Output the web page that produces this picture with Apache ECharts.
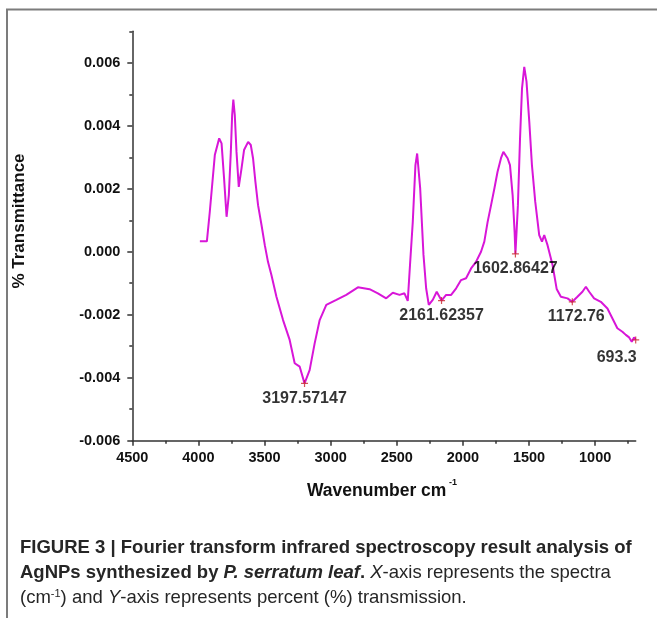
<!DOCTYPE html>
<html>
<head>
<meta charset="utf-8">
<script src="https://cdn.jsdelivr.net/npm/echarts@6/dist/echarts.min.js"></script>
<style>
  html, body { margin: 0; padding: 0; background: #fff; }
  #chart { width: 657px; height: 618px; }
</style>
</head>
<body>
<div id="chart"></div>
<script>
// FTIR spectrum (cm-1 / % transmittance)
const wavenumber = [
  3989, 3936, 3914, 3876, 3843, 3825, 3806, 3787, 3770, 3755,
  3745, 3736, 3725, 3712, 3695, 3674, 3655, 3624, 3604, 3587,
  3569, 3549, 3523, 3498, 3474, 3448, 3410, 3360, 3310, 3272,
  3234, 3197.57, 3159, 3121, 3083, 3033, 2957, 2882, 2794, 2706,
  2643, 2580, 2530, 2479, 2442, 2417, 2400, 2379, 2359, 2346,
  2323, 2298, 2278, 2258, 2228, 2198, 2161.62, 2127, 2089, 2051,
  2014, 1976, 1938, 1901, 1863, 1838, 1813, 1787, 1762, 1738,
  1712, 1694, 1679, 1662, 1644, 1624, 1609, 1602.86, 1584, 1568,
  1553, 1536, 1519, 1498, 1478, 1453, 1423, 1402, 1385, 1360,
  1322, 1291, 1259, 1209, 1172.76, 1134, 1096, 1070, 1045, 1008,
  957, 907, 870, 832, 794, 768, 743, 723, 706, 693.3
];
const transmittance = [
  0.00033, 0.00033, 0.00127, 0.00307, 0.00360, 0.00344, 0.00233, 0.00111, 0.00180, 0.00317,
  0.00434, 0.00483, 0.00434, 0.00317, 0.00206, 0.00265, 0.00323, 0.00349, 0.00339, 0.00297,
  0.00222, 0.00148, 0.00085, 0.00021, -0.00032, -0.00074, -0.00143, -0.00217, -0.00280, -0.00354,
  -0.00365, -0.00418, -0.00376, -0.00291, -0.00217, -0.00169, -0.00153, -0.00137, -0.00113, -0.00119,
  -0.00132, -0.00148, -0.00130, -0.00137, -0.00132, -0.00156, -0.00042, 0.00095, 0.00275, 0.00312,
  0.00201, -0.00010, -0.00116, -0.00169, -0.00153, -0.00127, -0.00155, -0.00137, -0.00137, -0.00116,
  -0.00090, -0.00084, -0.00053, -0.00032, 0.00000, 0.00032, 0.00095, 0.00148, 0.00201, 0.00254,
  0.00297, 0.00317, 0.00323, 0.00297, 0.00275, 0.00180, 0.00063, -0.00007, 0.00148, 0.00360,
  0.00519, 0.00587, 0.00540, 0.00413, 0.00275, 0.00159, 0.00053, 0.00032, 0.00053, 0.00021,
  -0.00042, -0.00118, -0.00143, -0.00148, -0.00159, -0.00143, -0.00127, -0.00111, -0.00127, -0.00148,
  -0.00159, -0.00180, -0.00211, -0.00243, -0.00254, -0.00264, -0.00272, -0.00286, -0.00272, -0.00280
];

// marked peaks
const peakWavenumber = [3197.57147, 2161.62357, 1602.86427, 1172.76, 693.3];
const peakTransmittance = [-0.00418, -0.00155, -0.00007, -0.00159, -0.00280];
const peakLabels = ['3197.57147', '2161.62357', '1602.86427', '1172.76', '693.3'];

// axis ticks
const xMajorTicks = [4500, 4000, 3500, 3000, 2500, 2000, 1500, 1000];
const xMinorTicks = [4250, 3750, 3250, 2750, 2250, 1750, 1250, 750];
const yMajorTicks = [-0.006, -0.004, -0.002, 0, 0.002, 0.004, 0.006];
const yMinorTicks = [-0.005, -0.003, -0.001, 0.001, 0.003, 0.005, 0.007];

const FONT = 'Liberation Sans';
const AXIS_COLOR = '#333';
const LINE_COLOR = '#d816d8';

const chart = echarts.init(document.getElementById('chart'));

const spectrum = wavenumber.map((w, i) => [w, transmittance[i]]);
const labelOffsets = [[0, 0], [0, 0], [0, 0], [4, 0], [-19, 3]];
const peaks = peakWavenumber.map((w, i) => ({
  value: [w, peakTransmittance[i]],
  label: { formatter: peakLabels[i], offset: labelOffsets[i] }
}));

const axisBase = {
  type: 'value',
  splitLine: { show: false },
  axisLine: { onZero: false, lineStyle: { color: AXIS_COLOR, width: 1.5 } }
};

chart.setOption({
  animation: false,
  grid: {
    left: 132.3, right: 21.3, top: 31.3, bottom: 177.3,
    containLabel: false, outerBoundsMode: 'none'
  },
  xAxis: [
    Object.assign({}, axisBase, {
      inverse: true, min: 693.3, max: 4500, position: 'bottom',
      axisTick: { customValues: xMajorTicks, length: 5, lineStyle: { color: AXIS_COLOR, width: 1.5 } },
      axisLabel: {
        customValues: xMajorTicks, margin: 10,
        formatter: v => String(v),
        color: '#111', fontFamily: FONT, fontWeight: 'bold', fontSize: 14.5
      }
    }),
    Object.assign({}, axisBase, {
      inverse: true, min: 693.3, max: 4500, position: 'bottom',
      axisLine: { show: false, onZero: false },
      axisTick: { customValues: xMinorTicks, length: 3, lineStyle: { color: AXIS_COLOR, width: 1.5 } },
      axisLabel: { show: false }
    })
  ],
  yAxis: [
    Object.assign({}, axisBase, {
      min: -0.006, max: 0.007, position: 'left',
      axisTick: { customValues: yMajorTicks, length: 5, lineStyle: { color: AXIS_COLOR, width: 1.5 } },
      axisLabel: {
        customValues: yMajorTicks, margin: 12,
        formatter: v => v.toFixed(3),
        color: '#111', fontFamily: FONT, fontWeight: 'bold', fontSize: 14.5
      }
    }),
    Object.assign({}, axisBase, {
      min: -0.006, max: 0.007, position: 'left',
      axisLine: { show: false, onZero: false },
      axisTick: { customValues: yMinorTicks, length: 3, lineStyle: { color: AXIS_COLOR, width: 1.5 } },
      axisLabel: { show: false }
    })
  ],
  series: [
    {
      type: 'line',
      data: spectrum,
      showSymbol: false,
      lineStyle: { color: LINE_COLOR, width: 2 },
      z: 2
    },
    {
      type: 'scatter',
      data: peaks,
      clip: false,
      symbol: 'path://M0,5L10,5M5,0L5,10',
      symbolSize: 7,
      itemStyle: { color: 'transparent', borderColor: '#c8262a', borderWidth: 1.2 },
      label: {
        show: true, position: 'bottom', distance: 3,
        color: '#000', fontFamily: FONT, fontWeight: 'bold', fontSize: 16
      },
      z: 3
    }
  ],
  graphic: [
    {
      type: 'rect', silent: true, z: -1,
      shape: { x: 7, y: 9.5, width: 700, height: 700 },
      style: { fill: 'none', stroke: '#7c7c7c', lineWidth: 2 }
    },
    {
      type: 'text', x: 19, y: 221, rotation: Math.PI / 2,
      style: {
        text: '% Transmittance', align: 'center', verticalAlign: 'middle',
        fill: '#111', fontFamily: FONT, fontWeight: 'bold', fontSize: 17
      }
    },
    {
      type: 'text', x: 307, y: 491,
      style: {
        text: 'Wavenumber cm', align: 'left', verticalAlign: 'middle',
        fill: '#111', fontFamily: FONT, fontWeight: 'bold', fontSize: 17.5
      }
    },
    {
      type: 'text', x: 449, y: 483,
      style: {
        text: '-1', align: 'left', verticalAlign: 'middle',
        fill: '#111', fontFamily: FONT, fontWeight: 'bold', fontSize: 9
      }
    },
    {
      type: 'text', x: 20, y: 548,
      style: {
        text: 'FIGURE 3 | Fourier transform infrared spectroscopy result analysis of',
        verticalAlign: 'middle',
        fill: '#262626', fontFamily: FONT, fontWeight: 'bold', fontSize: 18.5
      }
    },
    {
      type: 'text', x: 20, y: 573,
      style: {
        text: '{b|AgNPs synthesized by }{bi|P. serratum leaf}{b|.}{i| X}{n|-axis represents the spectra}',
        verticalAlign: 'middle',
        rich: {
          b: { fill: '#262626', fontFamily: FONT, fontWeight: 'bold', fontSize: 18.5 },
          bi: { fill: '#262626', fontFamily: FONT, fontWeight: 'bold', fontStyle: 'italic', fontSize: 18.5 },
          i: { fill: '#262626', fontFamily: FONT, fontStyle: 'italic', fontSize: 18.5 },
          n: { fill: '#262626', fontFamily: FONT, fontSize: 18.5 }
        }
      }
    },
    {
      type: 'text', x: 20, y: 598,
      style: {
        text: '{n|(cm}{s|-1}{n|) and }{i|Y}{n|-axis represents percent (%) transmission.}',
        verticalAlign: 'middle',
        rich: {
          n: { fill: '#262626', fontFamily: FONT, fontSize: 18.5 },
          i: { fill: '#262626', fontFamily: FONT, fontStyle: 'italic', fontSize: 18.5 },
          s: { fill: '#262626', fontFamily: FONT, fontSize: 11, verticalAlign: 'top', padding: [0, 0, 8, 0] }
        }
      }
    }
  ]
});
</script>
</body>
</html>
